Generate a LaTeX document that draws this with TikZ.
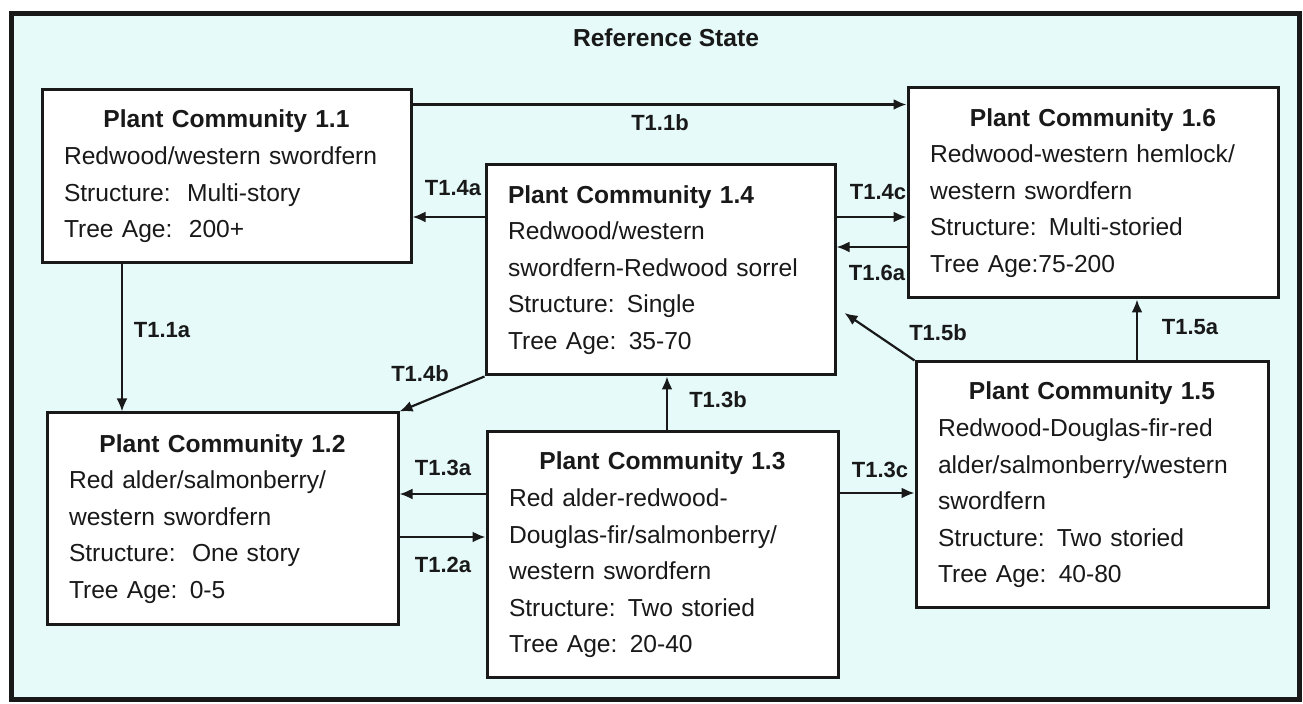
\documentclass[tikz,border=0pt]{standalone}
\usepackage{fontspec}
\setmainfont{Liberation Sans}
\usepackage{tikz}
\usetikzlibrary{shapes, arrows.meta}
\definecolor{refbg}{RGB}{230,250,250}
\definecolor{ink}{RGB}{25,25,25}

\begin{document}
\begin{tikzpicture}[x=0.5pt, y=-0.5pt, >={Latex[length=6.5pt,width=5.5pt]},
        community/.style={rectangle, draw=ink, line width=1.5pt, fill=white, text=ink, inner xsep=11pt, inner ysep=0pt, align=left, font=\fontsize{12.3}{18.3}\selectfont},
        trans/.style={->, draw=ink, line width=1.1pt},
        translabel/.style={text=ink, inner sep=1pt, font=\bfseries\fontsize{11}{13}\selectfont}]
        \useasboundingbox (0,0) rectangle (1303,704);
        \draw[draw=ink, line width=2.5pt, fill=refbg] (11,14) rectangle (1299,700);
        \node[text=ink, font=\bfseries\fontsize{12.3}{14}\selectfont] (title) at (666,38) {Reference State};

        \node[community, text width=162.5pt, minimum height=86.5pt] (pc11) at (226.5,176.5) {{\centering\bfseries Plant Community 1.1\par}Redwood/western swordfern\\Structure:\ \ Multi-story\\Tree Age:\ \ 200+};
        \node[community, text width=152.5pt, minimum height=105pt] (pc14) at (660.5,270) {\textbf{Plant Community 1.4}\\Redwood/western\\swordfern-Redwood sorrel\\Structure: Single\\Tree Age: 35-70};
        \node[community, text width=163pt, minimum height=105pt] (pc16) at (1093,193) {{\centering\bfseries Plant Community 1.6\par}Redwood-western hemlock/\\western swordfern\\Structure: Multi-storied\\Tree Age:75-200};
        \node[community, text width=153.5pt, minimum height=106pt] (pc12) at (222.5,519) {{\centering\bfseries Plant Community 1.2\par}Red alder/salmonberry/\\western swordfern\\Structure:\ \ One story\\Tree Age: 0-5};
        \node[community, text width=153.5pt, minimum height=123pt] (pc13) at (662.5,555) {{\centering\bfseries Plant Community 1.3\par}Red alder-redwood-\\Douglas-fir/salmonberry/\\western swordfern\\Structure: Two storied\\Tree Age: 20-40};
        \node[community, text width=154pt, minimum height=123pt] (pc15) at (1092,485) {{\centering\bfseries Plant Community 1.5\par}Redwood-Douglas-fir-red\\alder/salmonberry/western\\swordfern\\Structure: Two storied\\Tree Age: 40-80};

        \draw[trans] ([yshift=-8pt]pc11.north east) -- ([yshift=-9pt]pc16.north west);
        \draw[trans] ([yshift=26.5pt]pc14.west) -- ([yshift=-20.25pt]pc11.east);
        \draw[trans] ([yshift=26.5pt]pc14.east) -- ([yshift=-12pt]pc16.west);
        \draw[trans] ([yshift=-27pt]pc16.west) -- ([yshift=11.5pt]pc14.east);
        \draw[trans] (pc15.north west) -- ([xshift=4pt,yshift=-21.5pt]pc14.east);
        \draw[trans] ([xshift=22.5pt]pc15.north) -- ([xshift=22pt]pc16.south);
        \draw[trans] ([xshift=-52.25pt]pc11.south) -- ([xshift=-50.25pt]pc12.north);
        \draw[trans] (pc14.south west) -- (pc12.north east);
        \draw[trans] ([xshift=2.25pt]pc13.north) -- ([xshift=3.25pt]pc14.south);
        \draw[trans] ([yshift=30.5pt]pc13.west) -- ([yshift=12.5pt]pc12.east);
        \draw[trans] ([yshift=-9pt]pc12.east) -- ([yshift=9pt]pc13.west);
        \draw[trans] ([yshift=31pt]pc13.east) -- ([yshift=-4pt]pc15.west);

        \node[translabel] (t11b) at (660,123) {T1.1b};
        \node[translabel] (t14a) at (453,188) {T1.4a};
        \node[translabel] (t14c) at (878,192) {T1.4c};
        \node[translabel] (t16a) at (877,273) {T1.6a};
        \node[translabel] (t15b) at (938,333) {T1.5b};
        \node[translabel] (t15a) at (1190,327) {T1.5a};
        \node[translabel] (t11a) at (162,330) {T1.1a};
        \node[translabel] (t14b) at (420,374) {T1.4b};
        \node[translabel] (t13b) at (718,400) {T1.3b};
        \node[translabel] (t13a) at (443,468) {T1.3a};
        \node[translabel] (t12a) at (443,565) {T1.2a};
        \node[translabel] (t13c) at (880,470) {T1.3c};
    \end{tikzpicture}
\end{document}
